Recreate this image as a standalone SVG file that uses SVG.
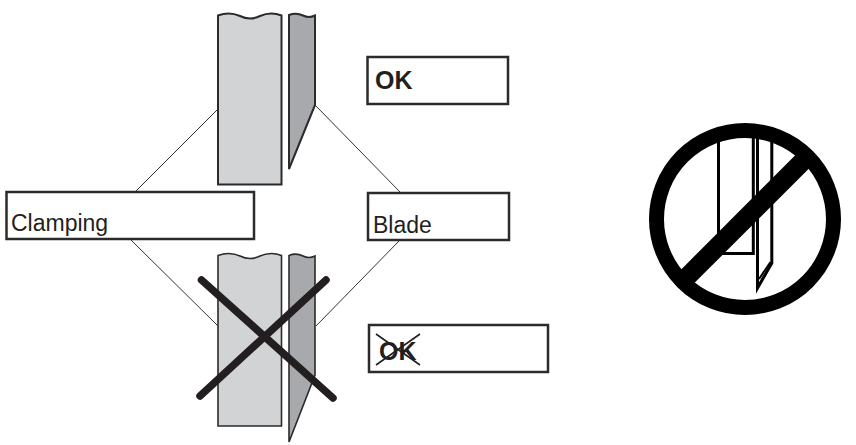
<svg xmlns="http://www.w3.org/2000/svg" width="856" height="445" viewBox="0 0 856 445">
<defs>
<style>
.block{fill:#d1d3d4;stroke:#2b2b2b;stroke-width:2}
.blade{fill:#a7a9ac;stroke:#2b2b2b;stroke-width:2}
.thin{stroke-width:1.6}
.box{fill:#fff;stroke:#2b2b2b;stroke-width:2.5}
.conn{fill:none;stroke:#333;stroke-width:1}
.strike{fill:none;stroke:#231f20;stroke-width:1.6}
.t{font-family:"Liberation Sans",Arial,sans-serif;fill:#231f20}
.cross{stroke:#231f20;stroke-width:7.500;stroke-linecap:round;fill:none}
.k{fill:none;stroke:#000;stroke-miterlimit:10}
</style>
</defs>
<rect width="856" height="445" fill="#fff"/>
<g id="connectors">
<path class="conn" d="M218 109L136 191"/>
<path class="conn" d="M315 105L400 192"/>
<path class="conn" d="M131 240L218 326"/>
<path class="conn" d="M316 326L400 240"/>
</g>
<g id="top-clamping">
<path class="block" d="M218 184.500V15.500C226 12.500 232 12.500 240 16C247 19.500 253 19.500 260 16C268 12.500 274 12.500 281.500 15.500V184.500Z"/>
</g>
<g id="top-blade">
<path class="blade" d="M289 169V15C294 13 298 13 303 15.500C307 17.500 311 17.500 315 15.500V105Z"/>
</g>
<g id="bottom-clamping">
<path class="block thin" d="M218 426V255.500C226 252.500 232 252.500 240 256C247 259.500 253 259.500 260 256C268 252.500 274 252.500 281.500 255.500V426Z"/>
</g>
<g id="bottom-blade">
<path class="blade thin" d="M289 442V255.500C294 253.500 298 253.500 303 256C307 258 311 258 315 256V375Z"/>
</g>
<g id="x-mark">
<path class="cross" d="M201.500 280L333 398"/>
<path class="cross" d="M326 280L200 396"/>
</g>
<g id="ok-box">
<rect class="box" x="367.500" y="57" width="140.500" height="47"/>
<text class="t" x="375" y="89" font-size="25" font-weight="700">OK</text>
</g>
<g id="clamping-box">
<rect class="box" x="6.500" y="192" width="247.500" height="47"/>
<text class="t" x="11" y="231" font-size="23">Clamping</text>
</g>
<g id="blade-box">
<rect class="box" x="368" y="193" width="141" height="47"/>
<text class="t" x="373" y="233" font-size="23">Blade</text>
</g>
<g id="not-ok-box">
<rect class="box" x="369" y="325" width="179" height="47"/>
<text class="t" x="379" y="360" font-size="25" font-weight="700">OK</text>
<path class="strike" d="M376 334L420 365M376 365L420 334"/>
</g>
<g id="prohibition">
<path class="k" stroke-width="3" d="M718.500 135V253.500H753.300V135"/>
<path class="k" stroke-width="3" d="M757.500 135V288L771.800 263V135"/>
<path class="k" stroke-width="2" d="M759 279L770.500 262"/>
<circle class="k" cx="745" cy="219" r="88.500" stroke-width="15"/>
<path class="k" stroke-width="19" d="M684.900 279.100L805 159"/>
</g>
</svg>
